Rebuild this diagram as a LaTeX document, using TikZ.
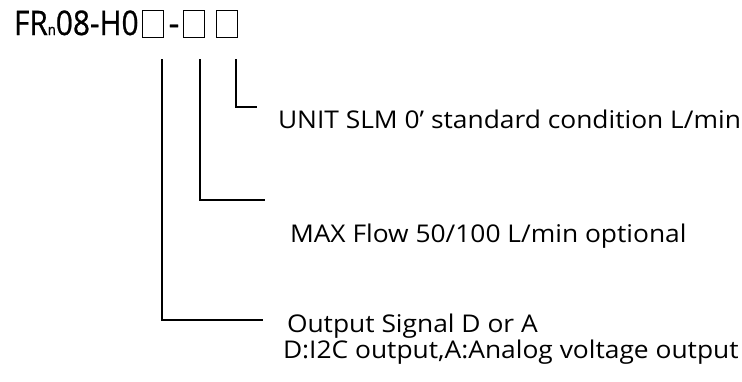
\documentclass[tikz,border=0pt]{standalone}
\usepackage{fontspec}
\setmainfont{Open Sans}
\newfontfamily\codeface[FakeBold=0.8]{Open Sans}
\usetikzlibrary{positioning}

\newcommand{\widetext}[1]{\scalebox{1.08}[1]{#1}}

\begin{document}
\begin{tikzpicture}[x=1bp,y=-1bp,
  every node/.style={inner sep=0pt,outer sep=0pt},
  slot/.style={draw,line width=0.8bp,minimum width=21bp,minimum height=27bp},
  lead/.style={line width=1.2bp},
  codefont/.style={font=\codeface\fontsize{34}{34}\selectfont},
  desc/.style={anchor=base west,font=\fontsize{24.5}{28}\selectfont}]
\useasboundingbox (0,0) rectangle (742,381);
% part number with its open fields
\node[codefont,anchor=base west] (code) at (14,35)
  {\scalebox{0.88}[1]{FR{\fontsize{15}{15}\selectfont n}08-H0}};
\node[slot,anchor=north west] (s1) at (142,10) {};
\node[codefont,anchor=base] (dash) at (174,35) {-};
\node[slot,anchor=north west] (s2) at (183,10) {};
\node[slot,right=12bp of s2] (s3) {};
% ends of the leaders
\coordinate (e1) at (263,320);
\coordinate (e2) at (265,200);
\coordinate (e3) at (257,107);
% descriptions
\node[desc] (unit) at (278,128) {\widetext{UNIT SLM 0' standard condition L/min}};
\node[desc] (flow) at (290,242) {\widetext{MAX Flow 50/100 L/min optional}};
\node[desc] (sig) at (287,332) {\widetext{Output Signal D or A}};
\node[desc] (sigdesc) at (283,358) {\widetext{D:I2C output,A:Analog voltage output}};
% leaders
\draw[lead] ([xshift=-1bp,yshift=-22bp]s1.south east) |- (e1);
\draw[lead] ([xshift=-4bp,yshift=-22bp]s2.south east) |- (e2);
\draw[lead] ([xshift=-1bp,yshift=-22bp]s3.south east) |- (e3);
\end{tikzpicture}
\end{document}
